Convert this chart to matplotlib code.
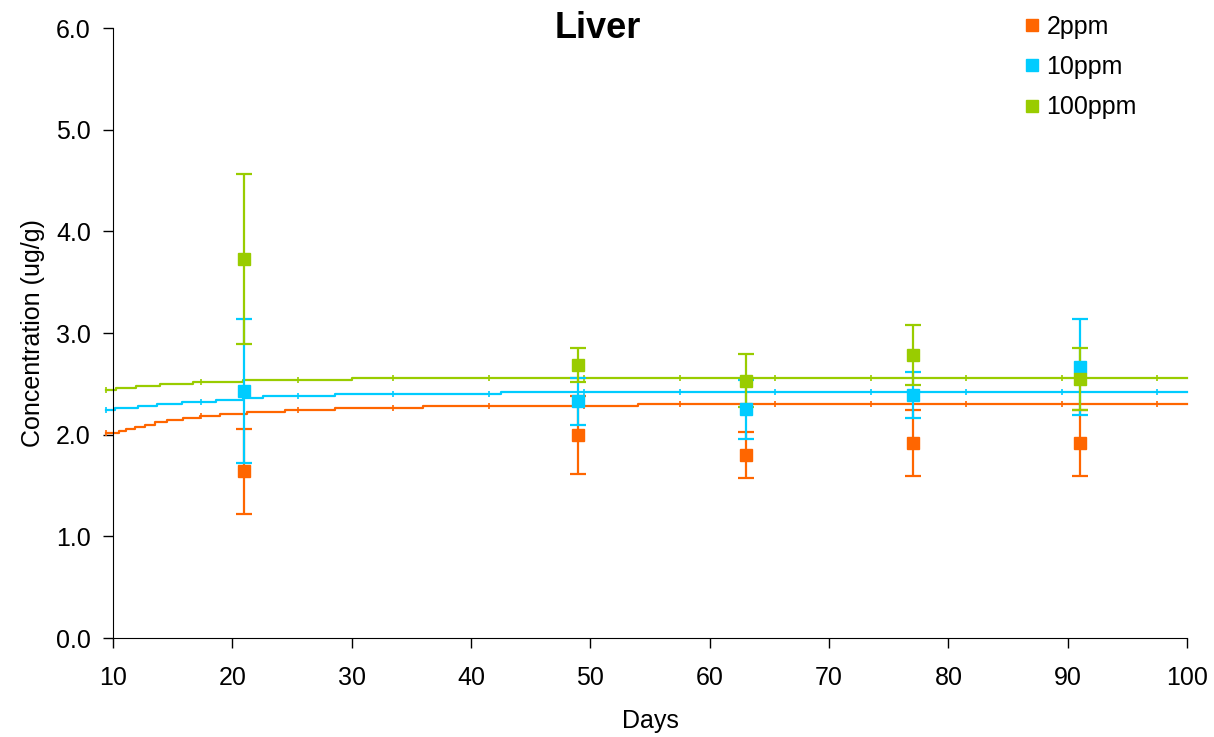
import numpy as np
import matplotlib
matplotlib.use("Agg")
import matplotlib.pyplot as plt

plt.rcParams["font.family"] = ["Liberation Sans", "DejaVu Sans"]

COLORS = {"2ppm": "#FF6600", "10ppm": "#00CCFF", "100ppm": "#99CC00"}

# measured points (day, mean, sd)
DAYS = [21, 49, 63, 77, 91]
MEAN_2 = [1.64, 2.00, 1.80, 1.915, 1.915]
SD_2 = [0.42, 0.385, 0.23, 0.325, 0.325]
MEAN_10 = [2.43, 2.33, 2.25, 2.39, 2.665]
SD_10 = [0.71, 0.23, 0.29, 0.23, 0.47]
MEAN_100 = [3.73, 2.685, 2.53, 2.78, 2.55]
SD_100 = [0.835, 0.17, 0.26, 0.295, 0.305]

# model curves, read as staircases (day where the level starts, level)
STEP_DAYS_2 = [9.4, 10.5, 11.1, 11.8, 12.7, 13.5, 14.5, 15.9, 17.3, 19.0, 21.2, 24.4, 28.6, 36.0, 54.0, 100]
STEP_VALS_2 = [2.02, 2.04, 2.06, 2.08, 2.10, 2.12, 2.14, 2.16, 2.18, 2.20, 2.22, 2.24, 2.26, 2.28, 2.30, 2.30]
STEP_DAYS_10 = [9.4, 10.2, 12.1, 13.7, 15.8, 18.6, 20.9, 22.6, 28.6, 42.5, 100]
STEP_VALS_10 = [2.24, 2.26, 2.28, 2.30, 2.32, 2.34, 2.36, 2.38, 2.40, 2.42, 2.42]
STEP_DAYS_100 = [9.4, 10.25, 11.9, 13.9, 16.7, 20.9, 30.0, 100]
STEP_VALS_100 = [2.44, 2.46, 2.48, 2.50, 2.52, 2.54, 2.56, 2.56]

# small tick marks along the model lines
MARK_DAYS = [9.4, 17.4, 25.5, 33.5, 41.5, 49.5, 57.5, 65.5, 73.5, 81.5, 89.5, 97.5]


def level_at(days, vals, x):
    idx = np.searchsorted(days, x, side="right") - 1
    return np.asarray(vals)[np.clip(idx, 0, len(vals) - 1)]


fig = plt.figure(figsize=(12.14, 7.37), dpi=100)
ax = fig.add_axes([0.0931, 0.1343, 0.8847, 0.8277])

series = [
    ("2ppm", MEAN_2, SD_2, STEP_DAYS_2, STEP_VALS_2),
    ("10ppm", MEAN_10, SD_10, STEP_DAYS_10, STEP_VALS_10),
    ("100ppm", MEAN_100, SD_100, STEP_DAYS_100, STEP_VALS_100),
]

for label, mean, sd, sdays, svals in series:
    c = COLORS[label]
    ax.step(sdays, svals, where="post", color=c, lw=1.6, clip_on=False, zorder=2)
    ax.plot(MARK_DAYS, level_at(sdays, svals, MARK_DAYS), ls="none", marker="|",
            ms=4, mew=1.2, color=c, clip_on=False, zorder=2)

for label, mean, sd, sdays, svals in series:
    c = COLORS[label]
    ax.errorbar(DAYS, mean, yerr=sd, fmt="s", color=c, ms=9, ecolor=c,
                elinewidth=1.6, capsize=5.5, capthick=1.6, zorder=3, label=label)

ax.set_xlim(10, 100)
ax.set_ylim(0, 6)
ax.set_xticks(np.arange(10, 101, 10))
ax.set_yticks(np.arange(0, 6.1, 1.0))
ax.set_yticklabels([f"{v:.1f}" for v in np.arange(0, 6.1, 1.0)])
ax.tick_params(labelsize=18, direction="out", length=7, width=1)
ax.tick_params(axis="x", pad=13)
ax.tick_params(axis="y", pad=9)
ax.spines["top"].set_visible(False)
ax.spines["right"].set_visible(False)
ax.set_xlabel("Days", fontsize=18, labelpad=14)
ax.set_ylabel("Concentration (ug/g)", fontsize=18, labelpad=8)

fig.text(0.4926, 0.962, "Liver", fontsize=26, fontweight="bold", ha="center", va="center")

handles, labels = ax.get_legend_handles_labels()
leg_handles = [plt.Line2D([], [], ls="none", marker="s", ms=8, color=COLORS[l]) for l in labels]
ax.legend(leg_handles, labels, loc="upper left", bbox_to_anchor=(0.8436, 1.0215), frameon=False,
          fontsize=18, handletextpad=0.1, labelspacing=0.65, handlelength=1.0,
          borderpad=0, borderaxespad=0)

fig.savefig("out.png", dpi=100)
